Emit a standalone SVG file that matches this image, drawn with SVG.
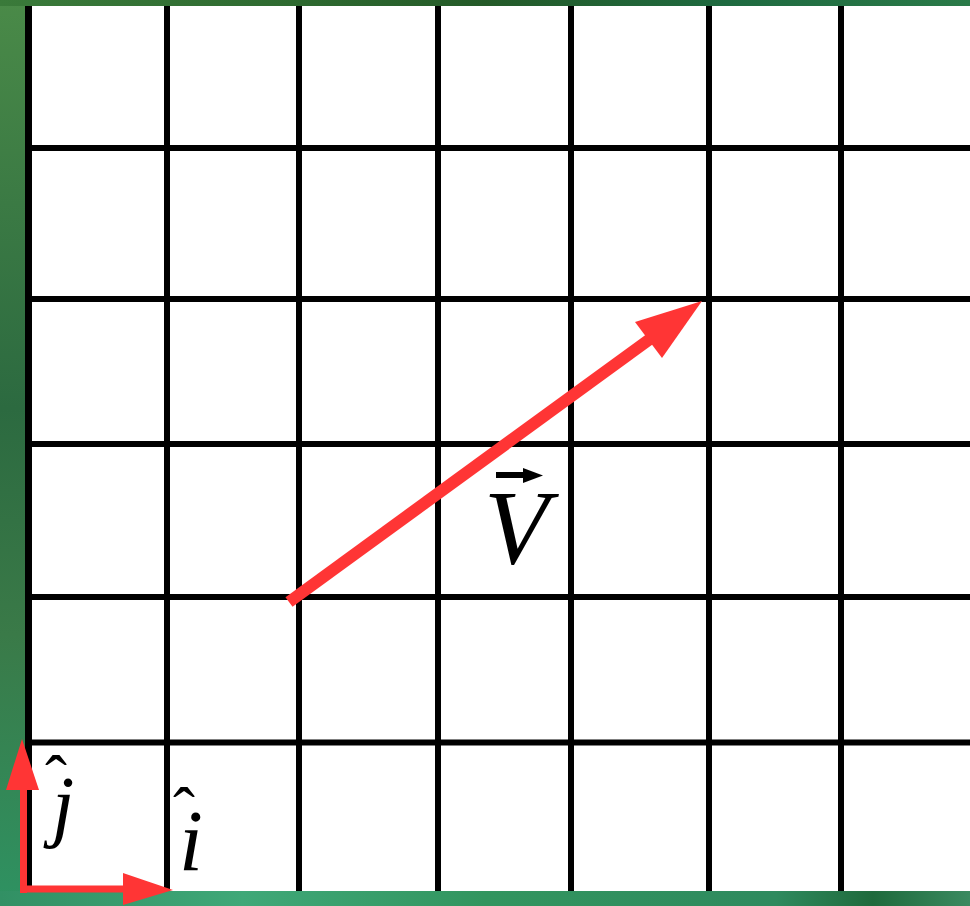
<svg xmlns="http://www.w3.org/2000/svg" width="970" height="906" viewBox="0 0 970 906">
<defs>
<linearGradient id="gl" x1="0" y1="0" x2="0" y2="1">
<stop offset="0" stop-color="#4a8a48"/>
<stop offset="0.45" stop-color="#2c6a40"/>
<stop offset="0.7" stop-color="#3a7a48"/>
<stop offset="1" stop-color="#2e9262"/>
</linearGradient>
<linearGradient id="gb" x1="0" y1="0" x2="1" y2="0">
<stop offset="0" stop-color="#329064"/>
<stop offset="0.25" stop-color="#3fa878"/>
<stop offset="0.5" stop-color="#32955f"/>
<stop offset="0.8" stop-color="#2e8a5e"/>
<stop offset="0.9" stop-color="#1f6a3c"/>
<stop offset="1" stop-color="#3a8a60"/>
</linearGradient>
<linearGradient id="gt" x1="0" y1="0" x2="1" y2="0">
<stop offset="0" stop-color="#3a7a3a"/>
<stop offset="0.3" stop-color="#2e6a30"/>
<stop offset="0.5" stop-color="#245a28"/>
<stop offset="0.75" stop-color="#1e6a40"/>
<stop offset="1" stop-color="#2a7a48"/>
</linearGradient>
<style>
.grid line{stroke:#000;stroke-width:6}
.red{fill:#FF3535}
.redl{stroke:#FF3535;fill:none}
.lbl{font-family:"Liberation Serif","Times New Roman",serif;font-style:italic;fill:#000}
.hat{font-style:normal}
</style>
</defs>
<rect x="0" y="0" width="970" height="906" fill="url(#gl)"/>
<rect x="0" y="0" width="970" height="6" fill="url(#gt)"/>
<rect x="0" y="891" width="970" height="15" fill="url(#gb)"/>
<rect x="25" y="6" width="945" height="885" fill="#fff"/>
<g id="grid" class="grid">
<line x1="28.5" y1="6" x2="28.5" y2="891" style="stroke-width:7"/>
<line x1="167" y1="6" x2="167" y2="891"/>
<line x1="299" y1="6" x2="299" y2="891"/>
<line x1="438" y1="6" x2="438" y2="891"/>
<line x1="571" y1="6" x2="571" y2="891"/>
<line x1="709" y1="6" x2="709" y2="891"/>
<line x1="841" y1="6" x2="841" y2="891"/>
<line x1="25" y1="148" x2="970" y2="148"/>
<line x1="25" y1="299" x2="970" y2="299"/>
<line x1="25" y1="444" x2="970" y2="444"/>
<line x1="25" y1="597" x2="970" y2="597"/>
<line x1="25" y1="742.5" x2="970" y2="742.5"/>
</g>
<g id="connectors">
<g id="vector-V">
<line class="redl" x1="289" y1="602" x2="650" y2="339" stroke-width="12"/>
<polygon class="red" points="702,301 635,322 662,358"/>
</g>
<g id="unit-j">
<line class="redl" x1="23.5" y1="893" x2="23.5" y2="788" stroke-width="7"/>
<polygon class="red" points="6,790 39,790 22,739"/>
</g>
<g id="unit-i">
<line class="redl" x1="20" y1="889" x2="125" y2="889" stroke-width="7"/>
<polygon class="red" points="123,873 123,905 173,890"/>
</g>
</g>
<g id="label-V">
<text class="lbl" x="484" y="563" font-size="106">V</text>
<line x1="496" y1="475" x2="526" y2="475" stroke="#000" stroke-width="6"/>
<polygon points="523,468 543,475.5 523,483" fill="#000"/>
</g>
<g id="label-j">
<text class="lbl"><tspan class="hat" x="45" y="801" font-size="66">ˆ</tspan><tspan x="52" y="832" font-size="80">j</tspan></text>
</g>
<g id="label-i">
<text class="lbl"><tspan class="hat" x="173" y="833" font-size="66">ˆ</tspan><tspan x="179" y="870" font-size="86">i</tspan></text>
</g>
</svg>
